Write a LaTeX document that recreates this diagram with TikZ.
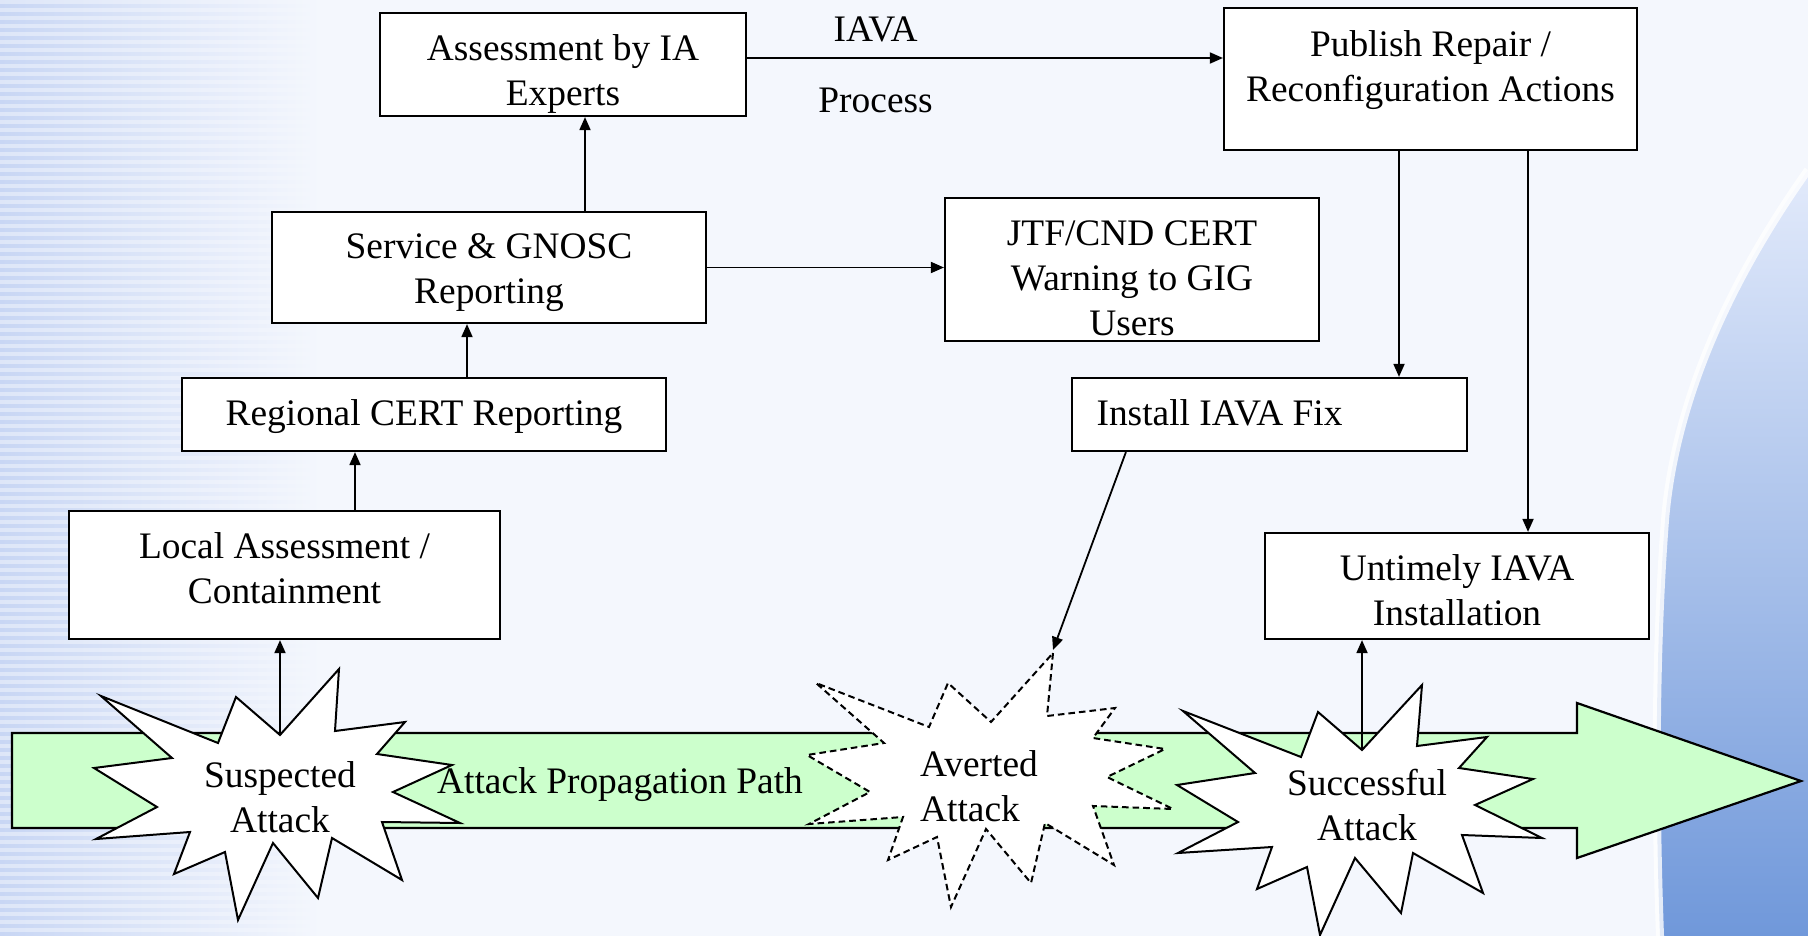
\documentclass[tikz,border=0pt]{standalone}
\usepackage{fontspec}
\setmainfont{Liberation Serif}
\usetikzlibrary{arrows.meta,calc}

\definecolor{bgcol}{RGB}{244,247,253}
\definecolor{stripe}{RGB}{200,214,244}
\definecolor{pathgreen}{RGB}{204,255,204}
\definecolor{swirl}{RGB}{112,152,218}
\definecolor{swirltop}{RGB}{226,234,251}
% box text, its middle moved up by #1 from the box middle
\newcommand{\lines}[2]{\raisebox{\dimexpr #1-6.4pt\relax}[0pt][0pt]{\begin{tabular}{@{}c@{}}#2\end{tabular}}}

\begin{document}
\begin{tikzpicture}[x=0.5pt, y=-0.5pt, >={Triangle[length=6.5pt,width=5.5pt]}, font=\fontsize{18.7}{22.5}\selectfont]
	\tikzstyle{box}   = [draw=black, fill=white, line width=1.1pt, inner sep=0pt]
	\tikzstyle{burst} = [draw=black, fill=white, line width=1pt, line join=miter]
	\tikzstyle{link}  = [->, line width=0.9pt]

	% background
	\useasboundingbox (0,0) rectangle (1808,936);
	\fill[bgcol] (0,0) rectangle (1808,936);
	\shade[left color=stripe, right color=bgcol] (0,0) rectangle (320,936);
	\foreach \yy in {0,8,...,936}
		\fill[bgcol, opacity=0.5] (0,\yy) rectangle (320,\yy+4);
	\shade[top color=swirltop, bottom color=swirl] (1808,170) .. controls (1730,280) and (1675,400) .. (1665,520) .. controls (1655,650) and (1655,800) .. (1660,936) -- (1808,936) -- cycle;
	\draw[white, line width=4pt, opacity=0.8] (1808,170) .. controls (1730,280) and (1675,400) .. (1665,520) .. controls (1655,650) and (1655,800) .. (1660,936);

	% attack propagation path
	\draw[fill=pathgreen, line width=1.1pt] (12,733) -- (1577,733) -- (1577,703) -- (1801,781) -- (1577,858) -- (1577,828) -- (12,828) -- cycle;
	\node (pathlbl) at (620,785) {Attack Propagation Path};

	% starbursts
	\draw[burst] (280,735) -- (339,669) -- (335,731) -- (405,722) -- (377,754) -- (452,765) -- (393,792) -- (460,823)
		-- (382,822) -- (402,880) -- (332,838) -- (318,898) -- (273,843) -- (238,920) -- (225,852) -- (174,874)
		-- (190,832) -- (96,839) -- (157,807) -- (94,768) -- (172,758) -- (101,696) -- (218,743) -- (236,697) -- cycle;
	\draw[burst, dash pattern=on 3.3pt off 2pt] (1053,653) -- (1047,716) -- (1115,708) -- (1093,738) -- (1165,749) -- (1107,777)
		-- (1173,809) -- (1093,806) -- (1114,865) -- (1045,823) -- (1031,883) -- (986,829) -- (951,907) -- (937,837)
		-- (888,860) -- (903,817) -- (809,824) -- (870,792) -- (807,755) -- (884,743) -- (816,683) -- (929,727)
		-- (948,683) -- (991,722) -- cycle;
	\draw[burst] (1362,750) -- (1422,685) -- (1417,746) -- (1487,737) -- (1459,768) -- (1533,779) -- (1475,805) -- (1542,838)
		-- (1462,835) -- (1483,893) -- (1413,853) -- (1401,913) -- (1355,858) -- (1320,935) -- (1307,867) -- (1257,889)
		-- (1272,847) -- (1178,853) -- (1238,822) -- (1177,785) -- (1255,773) -- (1183,711) -- (1301,757) -- (1318,712) -- cycle;
	\node[align=center] (sus)   at (280,797.5) {Suspected\\Attack};
	\node[align=left]   (avert) at (979,786)   {Averted\\Attack};
	\node[align=center] (succ)  at (1367,805.5){Successful\\Attack};
	\coordinate (susTop)  at (280,735);
	\coordinate (succTop) at (1362,750);
	\coordinate (hit)     at (1053,650);

	% reporting chain
	\node[box, minimum width=183pt,   minimum height=51.5pt] (assess)   at (563,64.5)   {\lines{-2.9pt}{Assessment by IA\\Experts}};
	\node[box, minimum width=206.5pt, minimum height=71pt]   (publish)  at (1430.5,79)  {\lines{6.6pt}{Publish Repair /\\Reconfiguration Actions}};
	\node[box, minimum width=217pt,   minimum height=55.5pt] (service)  at (489,267.5)  {\lines{-0.3pt}{Service \& GNOSC\\Reporting}};
	\node[box, minimum width=187pt,   minimum height=71.5pt] (jtf)      at (1132,269.5) {\lines{-4pt}{JTF/CND CERT\\Warning to GIG\\Users}};
	\node[box, minimum width=242pt,   minimum height=36.5pt] (regional) at (424,414.5)  {\lines{0.9pt}{Regional CERT Reporting}};
	\node[box, minimum width=197.5pt, minimum height=36.5pt] (install)  at (1269.5,414.5){\lines{0.9pt}{Install IAVA Fix\hspace{50pt}\mbox{}}};
	\node[box, minimum width=215.5pt, minimum height=64pt]   (local)    at (284.5,575)  {\lines{3.5pt}{Local Assessment /\\Containment}};
	\node[box, minimum width=192pt,   minimum height=53pt]   (untimely) at (1457,586)   {\lines{-1.7pt}{Untimely IAVA\\Installation}};

	\foreach \from/\to/\x in {service/assess/585, regional/service/467, local/regional/355}
		\draw[link] (\from.north -| \x,0) -- (\to.south -| \x,0);
	\foreach \to/\x in {install/1399, untimely/1528}
		\draw[link] (publish.south -| \x,0) -- (\to.north -| \x,0);

	\draw[link] (susTop) -- (local.south -| susTop);
	\draw[link] (succTop) -- (untimely.south -| succTop);
	\draw[link] (service.east) -- (service.east -| jtf.west);
	\draw[link] ($(install.south west)+(55,0)$) -- (hit);
	\draw[link] (assess.east |- 0,58) -- (publish.west |- 0,58)
		node[pos=0.27, yshift=14.5pt] {IAVA}
		node[pos=0.27, yshift=-21pt] {Process};
\end{tikzpicture}
\end{document}
